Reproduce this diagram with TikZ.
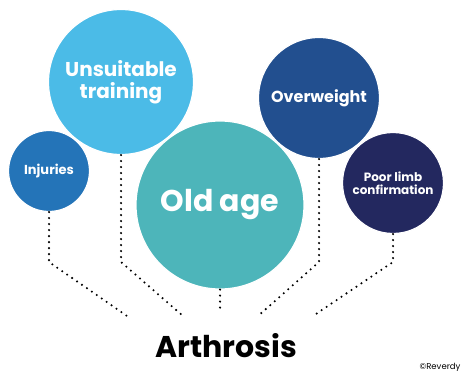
\documentclass[tikz,border=0pt]{standalone}
\usepackage{fontspec}
\setmainfont{Poppins}
\usetikzlibrary{calc,positioning}
\definecolor{arsky}{HTML}{4BBBE7}
\definecolor{arblue}{HTML}{2474B8}
\definecolor{arteal}{HTML}{4DB5BA}
\definecolor{arnavy}{HTML}{224F8F}
\definecolor{arink}{HTML}{23285F}
\tikzset{
  causebubble/.style={circle,draw=white,line width=1.2pt,inner sep=0pt,
    text=white,align=center},
  causelink/.style={draw=black,line width=2.3pt,line cap=round,
    dash pattern=on 0pt off 6pt},
}
\newcommand{\arsize}[2]{\bfseries\fontsize{#1}{#2}\selectfont}

\begin{document}
\begin{tikzpicture}[x=1pt,y=-1pt]
        \path[use as bounding box] (0,0) rectangle (462,371);
        % bubbles
        \node[causebubble,fill=arsky,minimum size=145pt,
          font=\arsize{20}{22}] (train) at (121,82) {Unsuitable\\training};
        \node[causebubble,fill=arblue,minimum size=81pt,font=\arsize{13}{15}] (inj) at (49,171) {Injuries};
        \node[causebubble,fill=arteal,minimum size=168pt,font=\arsize{30}{32}] (age) at (220,205) {Old age};
        \node[causebubble,fill=arnavy,minimum size=121pt,font=\arsize{16}{18}] (weight) at (319,98) {Overweight};
        \node[causebubble,fill=arink,minimum size=101pt,
          font=\arsize{12}{13}] (limb) at (393,183) {Poor limb\\confirmation};
        % target
        \node[font=\arsize{30}{32}] (arth) at (226,346) {Arthrosis};
        \node[font=\fontsize{8.5}{9}\selectfont,anchor=east] (credit) at (464,367) {©Reverdy};
        % links
        \foreach \src/\x in {inj/127,train/183,weight/258,limb/313}
          {\coordinate (\src-bend) at (\src.south |- 0,262);
           \coordinate (\src-end) at (\x,316);
           \draw[causelink] (\src.south) -- (\src-bend) -- (\src-end);}
        \coordinate (age-end) at (220,313);
        \draw[causelink] (age.south) -- (age-end);
      \end{tikzpicture}
\end{document}
